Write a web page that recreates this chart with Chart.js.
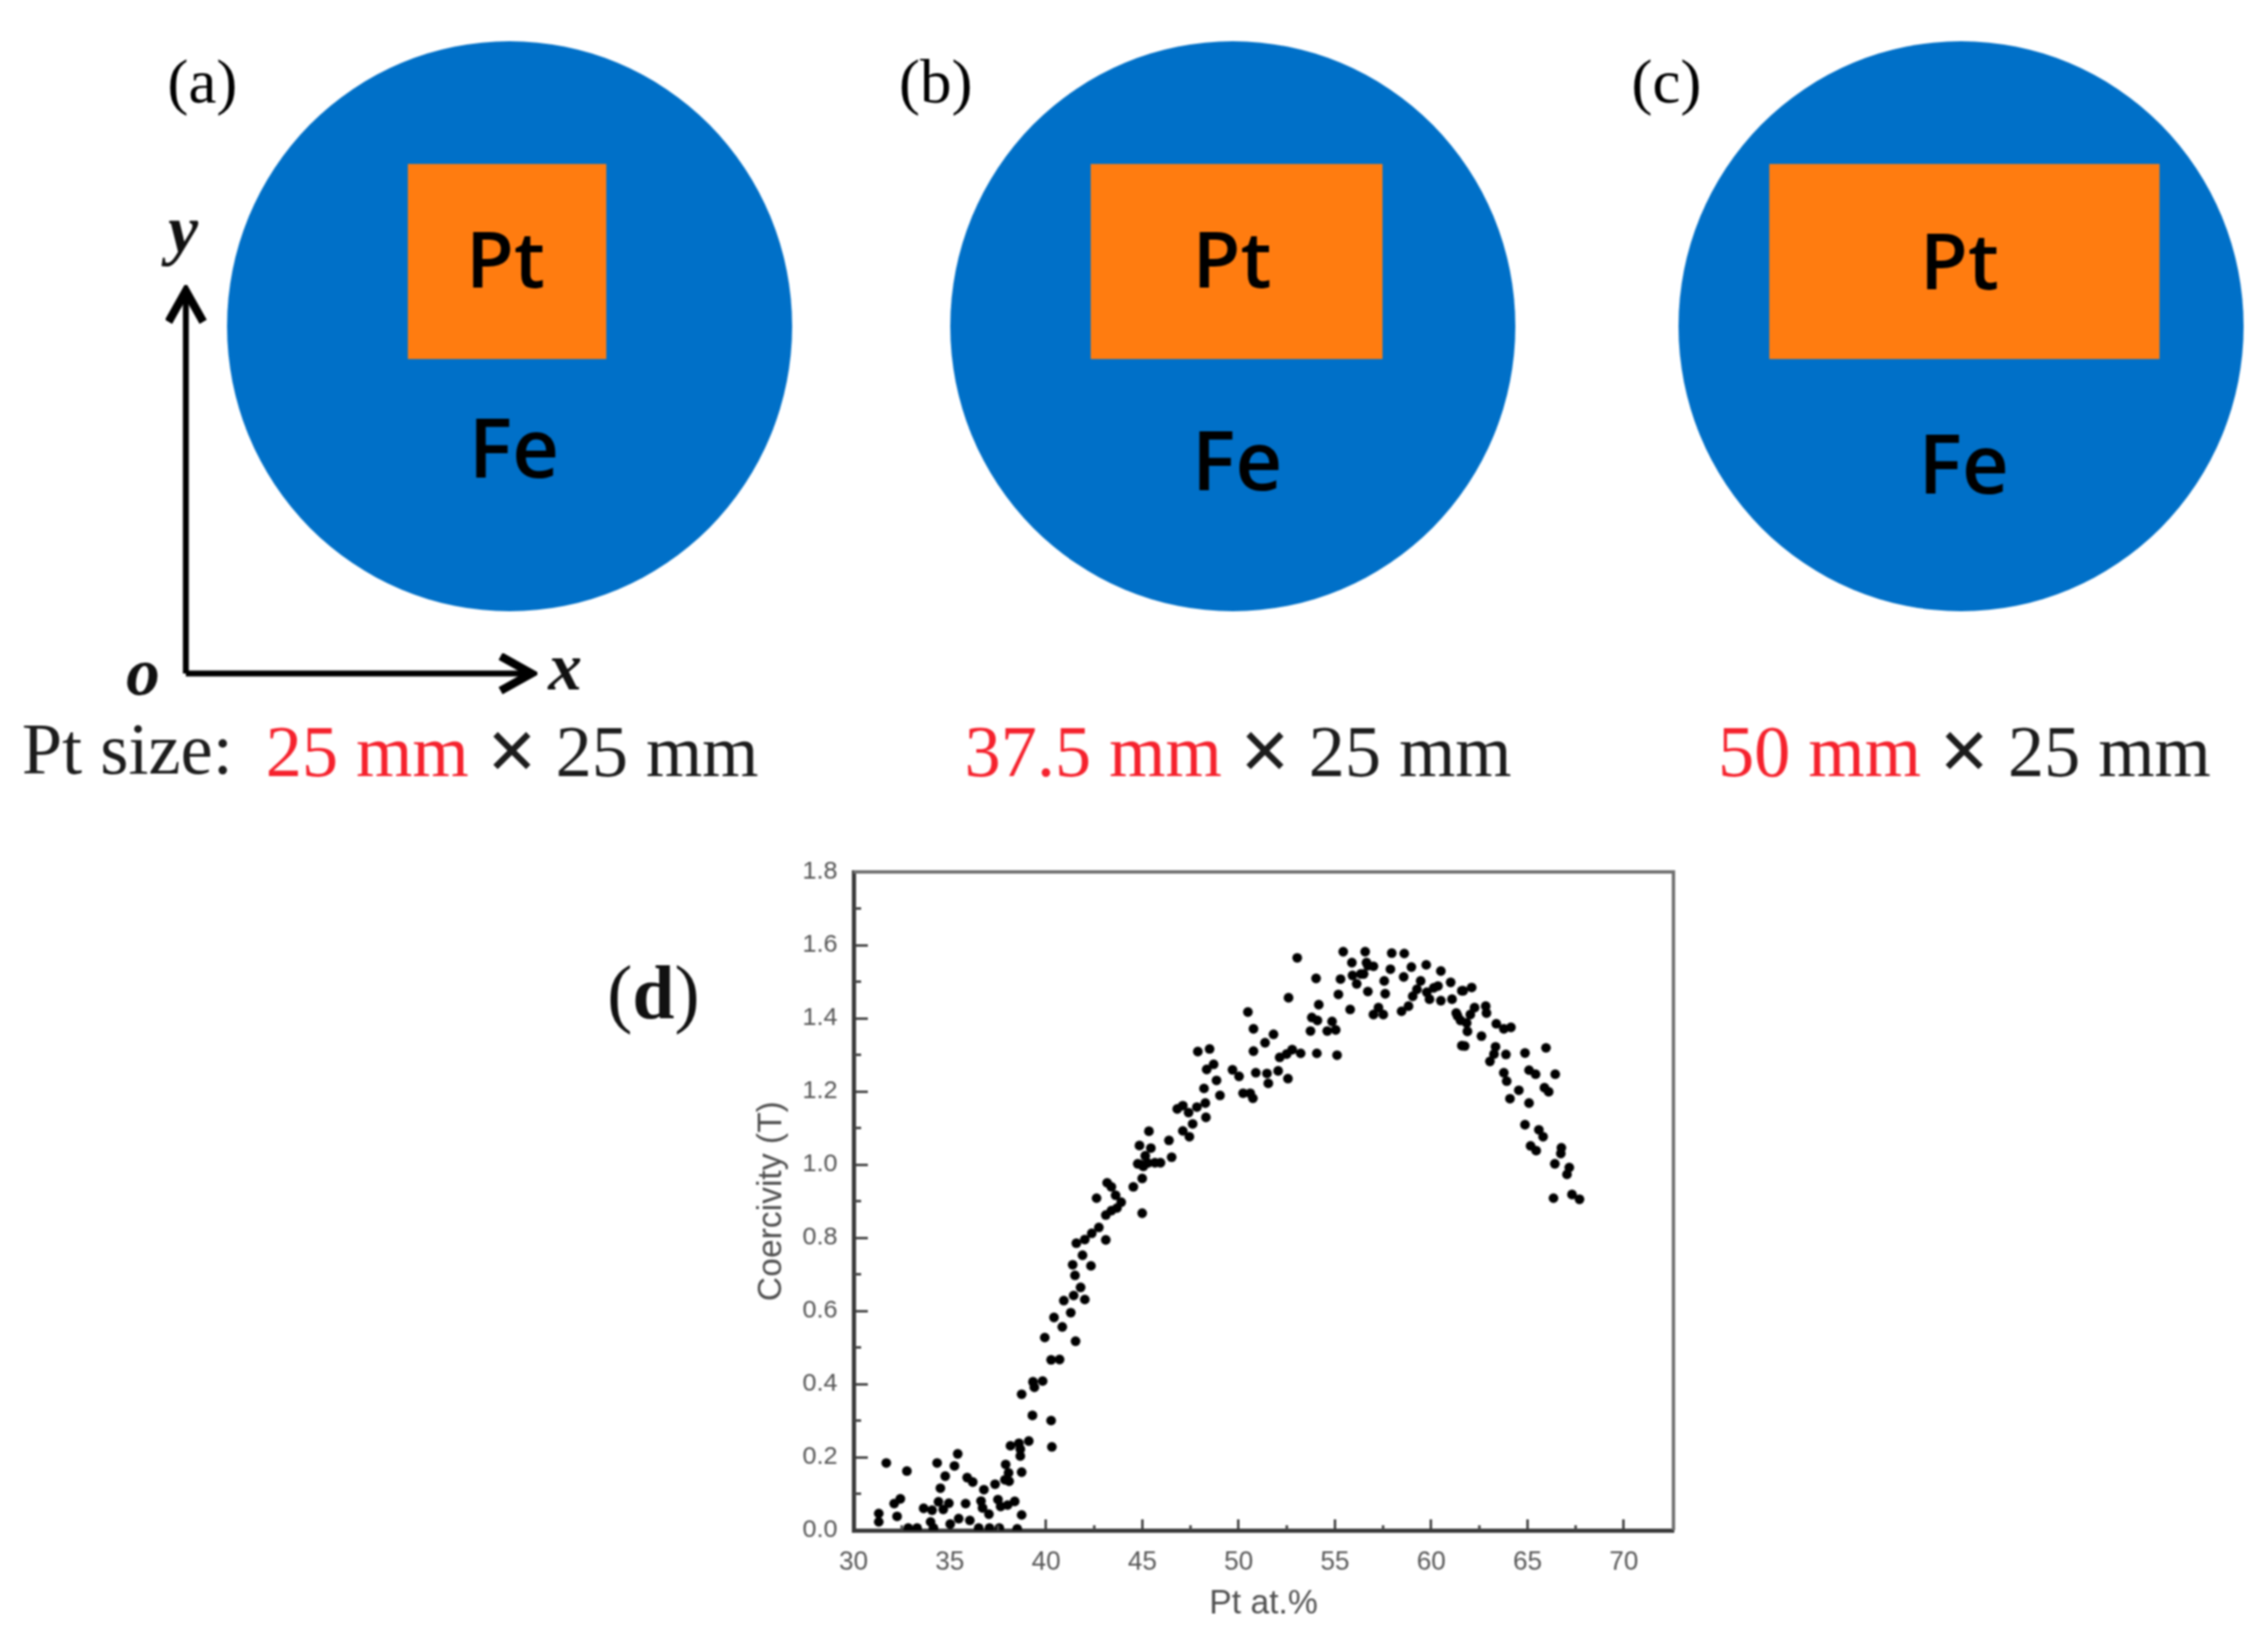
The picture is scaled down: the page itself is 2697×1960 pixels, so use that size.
<!DOCTYPE html>
<html><head><meta charset="utf-8">
<script src="https://cdn.jsdelivr.net/npm/chart.js@4"></script>
<style>
html,body{margin:0;padding:0;background:#fff;width:2697px;height:1960px;overflow:hidden}
#chart{position:absolute;left:0;top:0;filter:blur(1.3px)}
#diagrams{position:absolute;left:0;top:0;filter:blur(1.1px)}
.lab{font-family:"Liberation Serif",serif;font-size:75px;fill:#000}
.size{font-family:"Liberation Serif",serif;font-size:86px}
.ax{font-family:"Liberation Serif",serif;font-size:80px;font-style:italic;font-weight:bold;fill:#111}
.el{font-family:"Open Sans","Noto Sans",sans-serif;fill:#000;text-anchor:middle;font-weight:600}
.pt{font-size:93px}.fe{font-size:97px;font-weight:600}
.red{fill:#f5222d}.blk{fill:#1c1c1c}.times{font-size:106px;font-weight:bold}
</style></head><body>
<svg id="diagrams" width="2697" height="1960" xmlns="http://www.w3.org/2000/svg">
  <defs><marker id="ah" viewBox="0 0 10 10" refX="8.5" refY="5" markerWidth="7" markerHeight="7" orient="auto"><path d="M1 0.8 L8.5 5 L1 9.2" fill="none" stroke="#000" stroke-width="2"/></marker></defs>
  <ellipse cx="606" cy="388" rx="336" ry="339" fill="#0070c8"/>
  <ellipse cx="1466" cy="388" rx="336" ry="339" fill="#0070c8"/>
  <ellipse cx="2332" cy="388" rx="336" ry="339" fill="#0070c8"/>
  <rect x="485" y="195" width="236" height="232" fill="#ff7c10"/>
  <rect x="1297" y="195" width="347" height="232" fill="#ff7c10"/>
  <rect x="2104" y="195" width="464" height="232" fill="#ff7c10"/>
  <text class="el pt" x="601" y="342">Pt</text><text class="el pt" x="1465" y="342">Pt</text><text class="el pt" x="2330" y="344">Pt</text>
  <text class="el fe" x="611" y="568">Fe</text><text class="el fe" x="1471" y="583">Fe</text><text class="el fe" x="2335" y="587">Fe</text>
  <text class="lab" x="199" y="122">(a)</text><text class="lab" x="1069" y="122">(b)</text><text class="lab" x="1940" y="122">(c)</text>
  <path d="M221 801 V346" stroke="#000" stroke-width="7" fill="none" marker-end="url(#ah)"/>
  <path d="M221 801 H632" stroke="#000" stroke-width="7" fill="none" marker-end="url(#ah)"/>
  <text class="ax" x="200" y="300">y</text><text class="ax" x="652" y="820">x</text><text class="ax" x="150" y="826">o</text>
  <text class="size blk" x="26" y="920">Pt size:</text>
  <text class="size" x="316" y="923"><tspan class="red">25 mm</tspan><tspan class="blk"> <tspan class="times" dy="5">×</tspan><tspan dy="-5"> 25 mm</tspan></tspan></text>
  <text class="size" x="1147" y="923"><tspan class="red">37.5 mm</tspan><tspan class="blk"> <tspan class="times" dy="5">×</tspan><tspan dy="-5"> 25 mm</tspan></tspan></text>
  <text class="size" x="2043" y="923"><tspan class="red">50 mm</tspan><tspan class="blk"> <tspan class="times" dy="5">×</tspan><tspan dy="-5"> 25 mm</tspan></tspan></text>
  <text x="722" y="1211" font-family="Liberation Serif" font-size="90" fill="#111">(<tspan font-weight="bold">d</tspan>)</text>
</svg>
<canvas id="chart" width="2697" height="1960"></canvas>
<script>
const ptAt=[31.70,32.77,31.31,31.31,32.26,32.11,32.43,32.84,33.3,33.64,34.08,34.0,34.15,34.34,35.41,35.24,34.76,34.51,34.41,34.95,34.66,35.02,35.46,36.04,35.82,35.9,36.19,36.77,37.35,37.86,38.08,38.05,37.9,36.62,36.7,37.03,37.5,37.64,38.0,38.37,38.73,38.73,38.5,36.5,37.06,37.57,38.15,38.59,39.1,38.66,38.66,40.3,40.26,39.29,38.73,39.32,39.39,39.82,
40.26,40.7,39.93,41.53,40.84,40.41,41.28,40.92,42.01,41.43,41.79,41.5,41.38,42.33,41.89,43.1,41.57,42.01,42.37,42.74,43.1,43.39,43.68,43.9,43.61,43.39,43.17,42.62,44.99,44.53,44.99,44.92,45.28,45.65,45.94,
45.34,44.85,45.44,45.15,44.76,45.05,46.38,46.52,46.81,47.1,47.4,47.61,47.83,48.27,48.3,47.1,47.44,48.2,49.03,48.85,48.34,48.7,47.88,48.49,49.68,50.02,50.23,50.6,50.74,50.89,51.54,51.47,52.05,52.56,50.77,51.37,51.81,50.77,50.48,52.13,52.49,52.78,53.22,52.59,53.04,54.06,55.11,53.73,53.8,54.09,54.16,54.6,55.04,54.85,54.02,55.18,55.29,55.79,55.43,56.57,55.88,56.71,56.13,55.91,56.35,56.71,
56.49,56.64,57.0,57.56,57.61,57.88,57.95,58.6,58.57,58.97,59.74,60.5,61.01,60.35,57.0,57.51,57.26,58.46,58.82,59.04,59.26,59.45,59.77,59.91,60.13,60.5,61.08,61.59,61.37,61.59,
61.66,62.1,61.3,61.52,61.84,61.88,62.03,62.25,62.83,62.87,62.61,61.74,63.38,63.77,64.14,63.34,63.26,63.05,63.88,64.87,65.96,63.77,63.92,65.08,65.42,66.44,
64.55,64.09,65.08,65.88,66.1,64.87,65.59,65.81,65.16,65.45,66.76,66.73,66.42,67.17,67.05,66.35,67.31,67.7];
const coercivity=[.184,.162,.046,.023,.038,.073,.086,.006,.006,.060,.055,.023,.006,.184,.209,.176,.148,.115,.078,.074,.057,.017,.032,.027,.073,.144,.132,.111,.126,.138,.134,.157,.180,.080,.061,.044,.084,.065,.069,.079,.159,.042,.004,.006,.006,.006,.231,.238,.244,.222,.203,.228,.300,.314,.372,.406,.391,.408,
.466,.467,.527,.517,.556,.582,.595,.628,.631,.642,.664,.697,.726,.723,.752,.794,.785,.795,.812,.828,.862,.874,.881,.897,.916,.939,.950,.908,.867,.939,.962,1.0,1.004,1.005,1.005,
1.091,1.052,1.045,1.024,1.002,.995,1.066,1.02,1.152,1.161,1.142,1.111,1.157,1.168,1.129,1.092,1.076,1.208,1.189,1.23,1.26,1.274,1.309,1.316,1.259,1.241,1.195,1.195,1.181,1.251,1.222,1.249,1.256,1.235,1.31,1.333,1.356,1.371,1.417,1.293,1.302,1.314,1.304,1.456,1.565,1.304,1.299,1.365,1.402,1.394,1.437,1.365,1.368,1.391,1.509,1.465,1.507,1.424,1.582,1.582,1.552,1.473,1.494,1.517,1.521,1.544,
1.521,1.552,1.542,1.502,1.467,1.534,1.578,1.577,1.513,1.54,1.546,1.529,1.498,1.488,1.41,1.41,1.429,1.419,1.433,1.46,1.479,1.502,1.471,1.452,1.483,1.448,1.452,1.475,1.406,1.325,
1.475,1.484,1.414,1.394,1.387,1.364,1.41,1.429,1.433,1.414,1.351,1.324,1.385,1.371,1.375,1.322,1.302,1.282,1.301,1.305,1.319,1.251,1.228,1.258,1.247,1.247,
1.203,1.180,1.168,1.210,1.199,1.109,1.095,1.076,1.051,1.038,1.046,1.030,1.002,.992,.973,.908,.918,.905];
const xMinorTicks=[32.5,37.5,42.5,47.5,52.5,57.5,62.5,67.5];
const yMinorTicks=[0.1,0.3,0.5,0.7,0.9,1.1,1.3,1.5,1.7];
const xTitle='Pt at.%';
const yTitle='Coercivity (T)';

const frame={id:'frame',afterDatasetsDraw(c){
  const {ctx,chartArea:a,scales:{x,y}}=c;
  ctx.save();
  ctx.strokeStyle='#444';ctx.lineWidth=3;
  xMinorTicks.forEach(v=>{const p=x.getPixelForValue(v);ctx.beginPath();ctx.moveTo(p,a.bottom);ctx.lineTo(p,a.bottom-6);ctx.stroke();});
  yMinorTicks.forEach(v=>{const p=y.getPixelForValue(v);ctx.beginPath();ctx.moveTo(a.left,p);ctx.lineTo(a.left+9,p);ctx.stroke();});
  ctx.strokeStyle='#707070';ctx.lineWidth=4;
  ctx.beginPath();ctx.moveTo(a.left,a.top);ctx.lineTo(a.right,a.top);ctx.lineTo(a.right,a.bottom);ctx.stroke();
  ctx.restore();
}};

new Chart(document.getElementById('chart'),{
  type:'scatter',
  data:{datasets:[{data:ptAt.map((v,i)=>({x:v,y:coercivity[i]})),backgroundColor:'#000',borderWidth:0,pointRadius:5.8,pointHoverRadius:5.8}]},
  plugins:[frame],
  options:{
    responsive:false,animation:false,devicePixelRatio:1,
    layout:{padding:{left:894,right:707,top:1037,bottom:28}},
    plugins:{legend:{display:false},tooltip:{enabled:false},title:{display:false}},
    scales:{
      x:{type:'linear',min:30,max:72.58,
        afterFit(s){s.height=112;},
        border:{display:true,color:'#3a3a3a',width:5},
        grid:{drawOnChartArea:false,drawTicks:true,tickLength:-13,tickColor:'#444',tickWidth:3},
        ticks:{stepSize:5,includeBounds:false,autoSkip:false,maxRotation:0,padding:33,color:'#555',font:{family:'Liberation Sans',size:31},callback:v=>String(v)},
        title:{display:true,text:xTitle,color:'#4f4f4f',font:{family:'Liberation Sans',size:40},padding:0}},
      y:{type:'linear',min:0,max:1.8,
        afterFit(s){s.width=121;},
        border:{display:true,color:'#3a3a3a',width:5},
        grid:{drawOnChartArea:false,drawTicks:true,tickLength:-17,tickColor:'#444',tickWidth:3},
        ticks:{stepSize:0.2,autoSkip:false,padding:36,color:'#555',font:{family:'Liberation Sans',size:30},callback:v=>v.toFixed(1)},
        title:{display:true,text:yTitle,color:'#4f4f4f',font:{family:'Liberation Sans',size:40},padding:0}}
    }
  }
});
</script>
</body></html>
